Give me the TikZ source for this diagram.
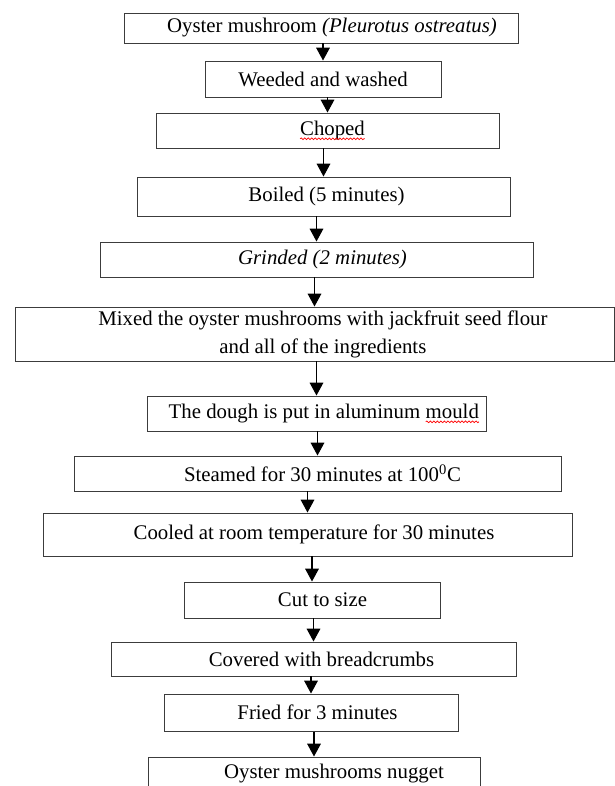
\documentclass[tikz,border=0pt]{standalone}
\usepackage{fontspec}
\setmainfont{Liberation Serif}
\usepackage{tikz}
\usetikzlibrary{arrows.meta}
\usetikzlibrary{decorations.pathmorphing}
\usetikzlibrary{positioning}
\definecolor{boxgray}{HTML}{3C3C3C}
\newcommand\spellwave[1]{\tikz[baseline = (w.base)]{\node [draw = none, inner sep = 0, outer sep = 0,
                                                            minimum width = 0pt, minimum height = 0pt] (w) {#1};
    \draw [red, line width = 0.5pt, decorate, decoration = {snake, amplitude = 0.6pt, segment length = 2.5pt}]
      ([yshift = -2.4pt] w.base west) -- ([yshift = -2.4pt] w.base east);}}
\tikzset{stepbox/.style 2 args = {draw = boxgray, line width = 0.7pt, inner sep = 0,
                                  minimum width = #1*0.025cm, minimum height = #2*0.025cm,
                                  font = \fontsize{14.8}{20}\selectfont}}
\tikzset{flow/.style = {-{Triangle[length = 0.32cm, width = 0.34cm]}, line width = 0.8pt}}

\begin{document}
\begin{tikzpicture}[x = 0.025cm, y = -0.025cm]
      \useasboundingbox (0, 0) rectangle (615, 786);

      \node [stepbox = {394}{30}] (oyster) at (321, 28) {\hspace*{0.55cm}Oyster mushroom \textit{(Pleurotus ostreatus)}};
      \node [stepbox = {236}{36}] (weeded) at (323, 79) {Weeded and washed};
      \node [stepbox = {343}{35}] (choped) at (327.5, 130.5) {\hspace*{0.25cm}\spellwave{Choped}};
      \node [stepbox = {373}{39}] (boiled) at (323.5, 196.5) {\hspace*{0.15cm}Boiled (5 minutes)};
      \node [stepbox = {433}{35}] (grinded) at (316.5, 259.5) {\hspace*{0.3cm}\textit{Grinded (2 minutes)}};
      \node [stepbox = {599}{54}, align = center] (mixed) at (314.5, 334) {\hspace*{0.42cm}Mixed the oyster mushrooms with jackfruit seed flour\\\hspace*{0.42cm}and all of the ingredients};
      \node [stepbox = {339}{35}] (dough) at (316.5, 413.5) {\hspace*{0.375cm}The dough is put in aluminum \spellwave{mould}};
      \node [stepbox = {487}{35}] (steamed) at (317.5, 473.5) {\hspace*{0.25cm}Steamed for 30 minutes at 100\textsuperscript{0}C};
      \node [stepbox = {529}{43}] (cooled) at (307.5, 534.5) {\hspace*{0.325cm}Cooled at room temperature for 30 minutes};
      \node [stepbox = {256}{36}] (cut) at (312, 600) {\hspace*{0.525cm}Cut to size};
      \node [stepbox = {405}{34}] (covered) at (313.5, 659) {\hspace*{0.4cm}Covered with breadcrumbs};
      \node [stepbox = {294}{37}] (fried) at (311, 712.5) {\hspace*{0.325cm}Fried for 3 minutes};
      \node [stepbox = {332}{33}] (nugget) at (314, 773.5) {\hspace*{1cm}Oyster mushrooms nugget};

      \draw [flow] (oyster.south -| weeded) -- (weeded.north);
      \draw [flow] (weeded.south -| choped) -- (choped.north);
      \draw [flow] (choped.south -| boiled) -- (boiled.north);
      \draw [flow] (boiled.south -| grinded) -- (grinded.north);
      \draw [flow] (grinded.south -| mixed) -- (mixed.north);
      \draw [flow] (mixed.south -| dough) -- (dough.north);
      \draw [flow] (dough.south -| steamed) -- (steamed.north);
      \draw [flow] (steamed.south -| cooled) -- (cooled.north);
      \draw [flow] (cooled.south -| cut) -- (cut.north);
      \draw [flow] (cut.south -| covered) -- (covered.north);
      \draw [flow] (covered.south -| fried) -- (fried.north);
      \draw [flow] (fried.south -| nugget) -- (nugget.north);
    \end{tikzpicture}
\end{document}
